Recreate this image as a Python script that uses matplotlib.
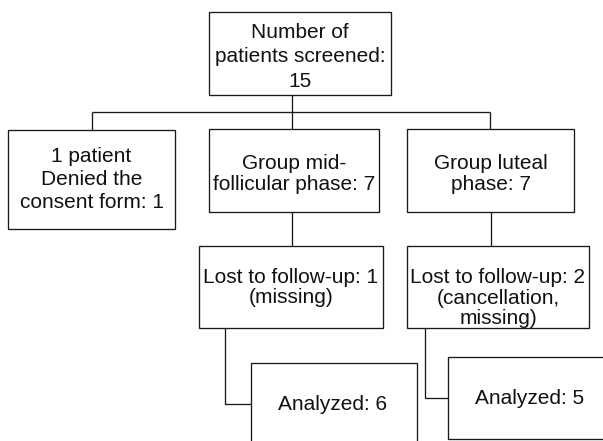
import matplotlib.pyplot as plt
from matplotlib.patches import Rectangle

plt.rcParams['font.family'] = ['Liberation Sans', 'DejaVu Sans']

# counts shown in the flow chart
screened = 15
denied = 1
mid_group = 7
luteal_group = 7
lost_mid = 1
lost_luteal = 2
analyzed_mid = 6
analyzed_luteal = 5

labels = [
    f'Number of\npatients screened:\n{screened}',
    f'1 patient\nDenied the\nconsent form: {denied}',
    f'Group mid-\nfollicular phase: {mid_group}',
    f'Group luteal\nphase: {luteal_group}',
    f'Lost to follow-up: {lost_mid}\n(missing)',
    f'Lost to follow-up: {lost_luteal}\n(cancellation,\nmissing)',
    f'Analyzed: {analyzed_mid}',
    f'Analyzed: {analyzed_luteal}',
]

# layout in pixel units (x0, y0, x1, y1), y grows downward
boxes = [
    (209, 12, 391, 95),
    (8, 130, 175, 229),
    (209, 129, 379, 212),
    (407, 129, 574, 212),
    (199, 246, 383, 328),
    (407, 246, 589, 328),
    (251, 363, 417, 460),
    (448, 357, 620, 439),
]
text_pos = [
    (300, 57, 1.34),
    (91.5, 179.5, 1.26),
    (294, 174, 1.13),
    (491, 174, 1.13),
    (291, 287.5, 1.08),
    (498, 298, 1.08),
    (333, 404, 1.2),
    (530, 398, 1.2),
]
connectors = [
    [(292, 95), (292, 112)],
    [(92, 112), (490, 112)],
    [(92, 112), (92, 130)],
    [(292, 112), (292, 129)],
    [(490, 112), (490, 129)],
    [(292, 212), (292, 246)],
    [(491, 212), (491, 246)],
    [(225, 328), (225, 404), (251, 404)],
    [(425, 328), (425, 398), (448, 398)],
]

line_c = '#1a1a1a'
lw = 0.95

fig = plt.figure(figsize=(6.03, 4.41), dpi=100, facecolor='w')
ax = fig.add_axes([0, 0, 1, 1])
ax.set_xlim(0, 603)
ax.set_ylim(441, 0)
ax.axis('off')

for pts in connectors:
    xs = [p[0] for p in pts]
    ys = [p[1] for p in pts]
    ax.plot(xs, ys, color=line_c, lw=lw, solid_capstyle='butt', solid_joinstyle='miter')

for (x0, y0, x1, y1), (tx, ty, ls), lab in zip(boxes, text_pos, labels):
    ax.add_patch(Rectangle((x0, y0), x1 - x0, y1 - y0, facecolor='w',
                           edgecolor=line_c, lw=lw))
    ax.text(tx, ty, lab, ha='center', va='center', multialignment='center',
            fontsize=15, color='#111111', linespacing=ls)

fig.savefig('out.png', dpi=100)
